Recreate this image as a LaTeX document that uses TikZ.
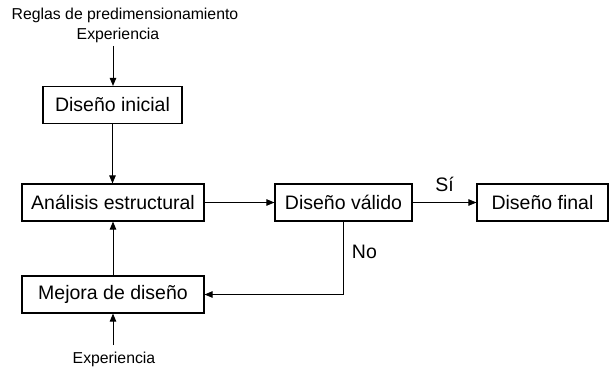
\documentclass[tikz,border=0pt]{standalone}
\usepackage{fontspec}
\setmainfont{Liberation Sans}
\usetikzlibrary{arrows.meta}
\begin{document}
\begin{tikzpicture}[x=1pt,y=-1pt,>={Triangle[length=8pt,width=6.5pt]},
  caja/.style={draw,line width=1.2pt,minimum height=37pt,inner sep=0pt,font=\fontsize{19.5}{22}\selectfont},
  flecha/.style={->,line width=0.9pt},
  nota/.style={inner sep=0pt,font=\fontsize{15.8}{19}\selectfont}]
\useasboundingbox (0,0) rectangle (611,369);
\node[nota] (reglas) at (125,15) {Reglas de predimensionamiento};
\node[nota] (exparriba) at (118,35) {Experiencia};
\node[caja,minimum width=139pt] (inicial) at (112.5,105) {Diseño inicial};
\node[caja,minimum width=182pt] (analisis) at (113,202.5) {Análisis estructural};
\node[caja,minimum width=137pt] (valido) at (343.5,202.5) {Diseño válido};
\node[caja,minimum width=131pt] (final) at (542.5,202.5) {Diseño final};
\node[caja,minimum width=182pt] (mejora) at (113,294.5) {Mejora de diseño};
\node[nota] (expabajo) at (114,359) {Experiencia};
\coordinate (e1) at (113,46); \coordinate (e2) at (113,345);
\draw[flecha] (e1) -- (e1 |- inicial.north);
\draw[flecha] (inicial.south) -- (inicial.south |- analisis.north);
\draw[flecha] (analisis) -- (valido);
\draw[flecha] (valido) -- (final) node[midway,above=10pt,inner sep=0pt,font=\fontsize{19.5}{22}\selectfont]{Sí};
\draw[flecha] (valido.south) |- (mejora.east) node[pos=0.21,right=8pt,inner sep=0pt,font=\fontsize{19.5}{22}\selectfont]{No};
\draw[flecha] (mejora.north) -- (analisis.south);
\draw[flecha] (e2) -- (e2 |- mejora.south);
\end{tikzpicture}
\end{document}
